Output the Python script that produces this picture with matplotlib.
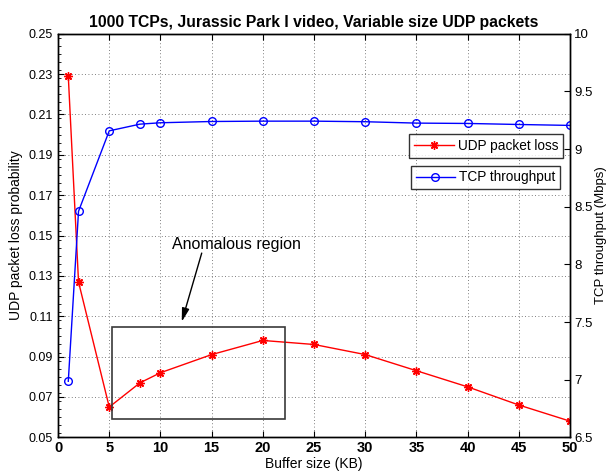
import matplotlib
matplotlib.use("Agg")
import matplotlib.pyplot as plt
from matplotlib.patches import Rectangle
from matplotlib.ticker import MultipleLocator

plt.rcParams['font.family'] = ['Liberation Sans', 'DejaVu Sans']

buffer_kb = [1, 2, 5, 8, 10, 15, 20, 25, 30, 35, 40, 45, 50]
udp_loss = [0.229, 0.127, 0.065, 0.077, 0.082, 0.091, 0.098, 0.096, 0.091, 0.083, 0.075, 0.066, 0.058]
tcp_thr = [6.986, 8.46, 9.158, 9.216, 9.228, 9.239, 9.242, 9.242, 9.237, 9.225, 9.222, 9.213, 9.205]

x_ticks = [0, 5, 10, 15, 20, 25, 30, 35, 40, 45, 50]
left_ticks = [0.05, 0.07, 0.09, 0.11, 0.13, 0.15, 0.17, 0.19, 0.21, 0.23, 0.25]
right_ticks = [6.5, 7, 7.5, 8, 8.5, 9, 9.5, 10]

fig = plt.figure(figsize=(6.11, 4.72), dpi=100)
ax = fig.add_axes([0.095, 0.0735, 0.838, 0.855])
ax2 = ax.twinx()

l1, = ax.plot(buffer_kb, udp_loss, color='red', lw=1, marker=(8, 2, 0), ms=6, mew=1,
              label='UDP packet loss')
l2, = ax2.plot(buffer_kb, tcp_thr, color='blue', lw=1, marker='o', ms=5.5, mew=1,
               mfc='none', label='TCP throughput')

ax.set_xlim(0, 50)
ax.set_ylim(0.05, 0.25)
ax2.set_ylim(6.5, 10)
ax.set_xticks(x_ticks)
ax.set_xticklabels([str(v) for v in x_ticks], fontweight='bold', fontsize=10.5)
ax.set_yticks(left_ticks)
ax.set_yticklabels([f"{v:.2f}" for v in left_ticks], fontsize=9)
ax.yaxis.set_minor_locator(MultipleLocator(0.004))
ax2.set_yticks(right_ticks)
ax2.set_yticklabels([f"{v:g}" for v in right_ticks], fontsize=9.5)

ax.grid(True, which='major', linestyle=(0, (1, 3)), color='#555555', lw=0.6)
for a in (ax, ax2):
    a.tick_params(direction='in', length=4, width=0.8, colors='black')
    for s in a.spines.values():
        s.set_linewidth(1)
ax.tick_params(which='minor', direction='in', length=2, width=0.6, right=False)
ax.tick_params(top=True)
ax.tick_params(axis='x', pad=3)
ax2.tick_params(axis='y', pad=3)

ax.set_xlabel('Buffer size (KB)', fontsize=10, labelpad=1)
ax.set_ylabel('UDP packet loss probability', fontsize=10, labelpad=4)
ax2.set_ylabel('TCP throughput (Mbps)', fontsize=9.5, labelpad=2)
ax.set_title('1000 TCPs, Jurassic Park I video, Variable size UDP packets',
             fontsize=11.3, fontweight='bold', pad=5)

ax.add_patch(Rectangle((5.3, 0.0593), 16.9, 0.0453, fill=False, edgecolor='#3a3a3a', lw=1.2, zorder=5))
ax.text(17.45, 0.1454, 'Anomalous region', ha='center', va='center', fontsize=11.5)
ax.annotate('', xy=(12.08, 0.1073), xytext=(14.03, 0.1413),
            arrowprops=dict(arrowstyle='-|>,head_length=0.8,head_width=0.22', color='black',
                            lw=1, shrinkA=0, shrinkB=0, mutation_scale=10))

leg1 = ax2.legend(handles=[l1], loc='upper left', bbox_to_anchor=(0.686, 0.751),
                  fontsize=9.8, frameon=True, fancybox=False, edgecolor='black',
                  borderpad=0.35, handlelength=2.9, handletextpad=0.3, borderaxespad=0)
leg1.get_frame().set_linewidth(1)
ax2.add_artist(leg1)
leg2 = ax2.legend(handles=[l2], loc='upper left', bbox_to_anchor=(0.689, 0.673),
                  fontsize=9.8, frameon=True, fancybox=False, edgecolor='black',
                  borderpad=0.35, handlelength=2.9, handletextpad=0.3, borderaxespad=0)
leg2.get_frame().set_linewidth(1)

fig.savefig('out.png', dpi=100)
